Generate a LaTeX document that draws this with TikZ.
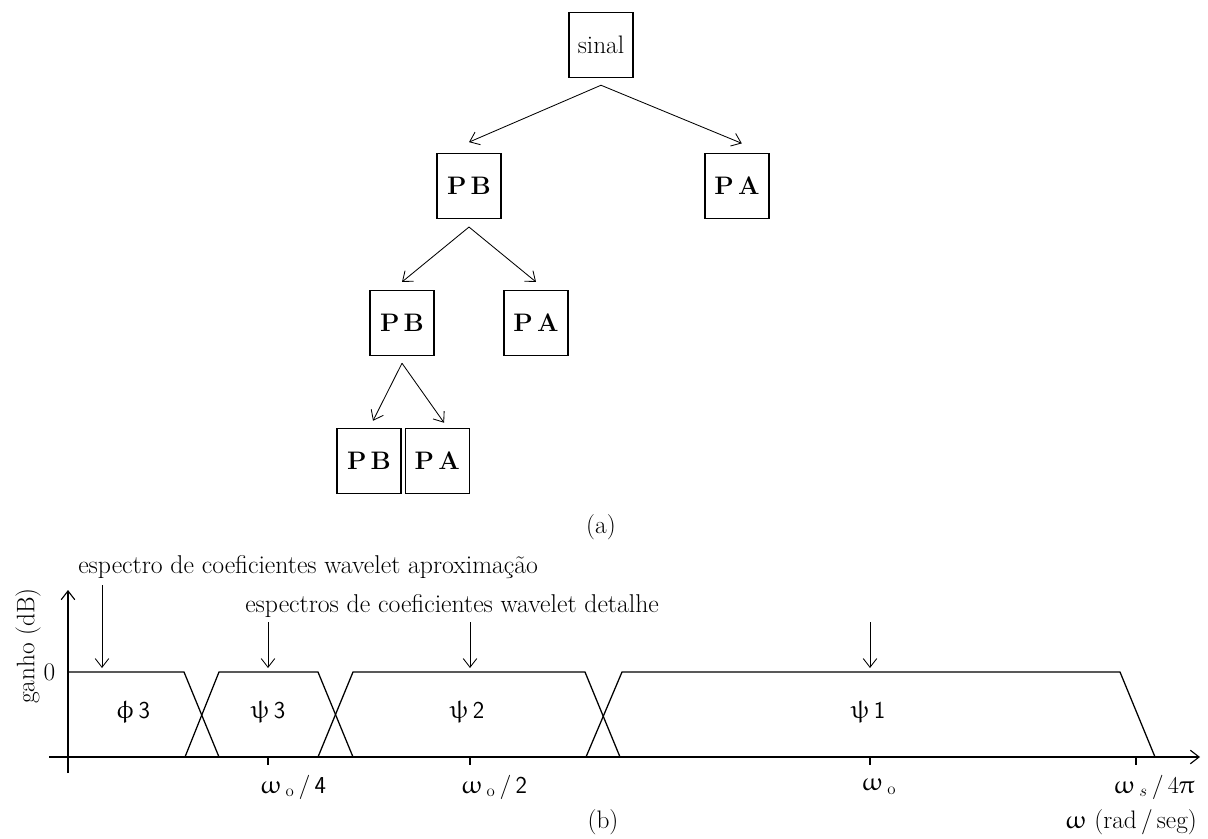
\documentclass[tikz,border=0pt]{standalone}
\usepackage{amsmath}
\usepackage{amssymb}
\usepackage{upgreek}
\usepackage{tikz}
\usetikzlibrary{arrows.meta, calc, positioning}
\newcommand{\wzero}{\upomega\,_{\mathrm{o}}}

\begin{document}
\begin{tikzpicture}[x=0.025cm, y=-0.025cm,
    >={Straight Barb[length=2.2mm,width=3.4mm]},
    every node/.style={font=\fontsize{18}{21}\selectfont},
    bloco/.style={draw, line width=0.9pt, minimum width=1.6cm,
      minimum height=1.62cm, inner sep=0pt},
    seta/.style={->, line width=0.6pt},
    eixo/.style={->, line width=0.8pt},
    faixa/.style={line width=0.9pt},
    grego/.style={font=\fontsize{18}{21}\selectfont},
    rotulo/.style={font=\fontsize{18.3}{21}\selectfont}]
  \useasboundingbox (0,0) rectangle (1208,839);

  % arvore de filtros (a)
  \node[bloco] (sinal) at (601,45) {sinal};
  \node[bloco] (pb1) at (469,186) {\textbf{P\,B}};
  \node[bloco] (pa1) at (737,186) {\textbf{P\,A}};
  \node[bloco] (pb2) at (402,323) {\textbf{P\,B}};
  \node[bloco] (pa2) at (536,323) {\textbf{P\,A}};
  \node[bloco] (pb3) at (369,461) {\textbf{P\,B}};
  \node[bloco, right=0.075cm of pb3] (pa3) {\textbf{P\,A}};
  \node (a) at (601,527) {(a)};

  \coordinate (sinal-out) at ([yshift=-0.18cm]sinal.south);
  \coordinate (pb1-out) at ([yshift=-0.2cm]pb1.south);
  \coordinate (pb2-out) at ([yshift=-0.18cm]pb2.south);
  \draw[seta] (sinal-out) -- ([yshift=0.27cm]pb1.north);
  \draw[seta] (sinal-out) -- ([xshift=0.12cm, yshift=0.24cm]pa1.north);
  \draw[seta] (pb1-out) -- ([yshift=0.2cm]pb2.north);
  \draw[seta] (pb1-out) -- ([yshift=0.2cm]pa2.north);
  \draw[seta] (pb2-out) -- ([xshift=0.1cm, yshift=0.18cm]pb3.north);
  \draw[seta] (pb2-out) -- ([xshift=0.17cm, yshift=0.13cm]pa3.north);

  % espectro (b)
  \coordinate (O) at (68,757);
  \draw[eixo] (68,773) -- (68,590);
  \draw[eixo] (49,757) -- (1200,757);
  \node[left, inner sep=1pt] (zero) at (57,672) {0};
  \node[rotate=90] (ganho) at (28,646) {ganho (dB)};

  \draw[faixa] (68,672) -- (184,672) -- (219,757);
  \draw[faixa] (185,757) -- (219,672) -- (318,672) -- (353,757);
  \draw[faixa] (318,757) -- (353,672) -- (585,672) -- (620,757);
  \draw[faixa] (586,757) -- (622,672) -- (1120,672) -- (1155,757);

  \foreach \t in {268,470,870,1136}
    \draw[line width=0.8pt] (\t,757) -- (\t,765);

  \node[grego] (phi3) at (133,712) {$\upphi\,\mathsf{3}$};
  \node[grego] (psi3) at (268,712) {$\uppsi\,\mathsf{3}$};
  \node[grego] (psi2) at (467,712) {$\uppsi\,\mathsf{2}$};
  \node[grego] (psi1) at (868,712) {$\uppsi\,\mathsf{1}$};

  \node[grego] (f4) at (293,787) {$\wzero\,/\,\mathsf{4}$};
  \node[grego] (f2) at (494,787) {$\wzero\,/\,\mathsf{2}$};
  \node[grego] (f1) at (879,787) {$\wzero$};
  \node[grego] (fs) at (1154,787) {$\upomega\,_{s}\,/\,4\uppi$};
  \node (w) at (1131,822) {$\upomega$ (rad\,/\,seg)};
  \node (b) at (603,822) {(b)};

  \node[rotulo, anchor=base west, inner sep=0pt] (aprox) at (78,573)
    {espectro de coeficientes wavelet aproximação};
  \node[rotulo, anchor=base west, inner sep=0pt] (detal) at (245,612)
    {espectros de coeficientes wavelet detalhe};

  \coordinate (t-phi3) at (102,668);
  \coordinate (t-psi3) at (268,668);
  \coordinate (t-psi2) at (470,668);
  \coordinate (t-psi1) at (870,668);
  \draw[seta] (102,585) -- (t-phi3);
  \draw[seta] (268,622) -- (t-psi3);
  \draw[seta] (470,622) -- (t-psi2);
  \draw[seta] (870,622) -- (t-psi1);
\end{tikzpicture}
\end{document}
